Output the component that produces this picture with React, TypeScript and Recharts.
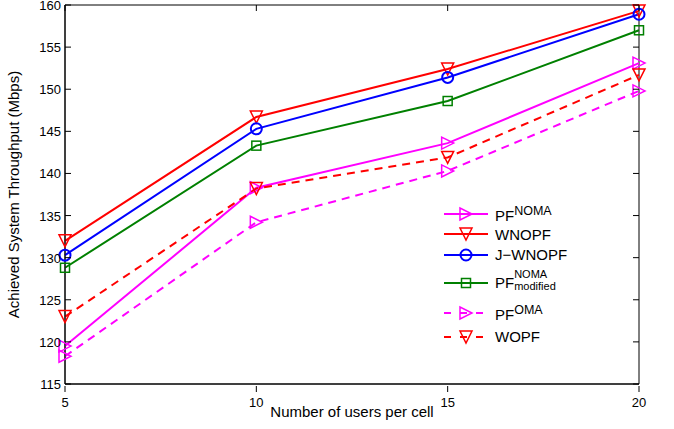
import { LineChart, Line, XAxis, YAxis, ReferenceArea } from 'recharts'

const users = [5, 10, 15, 20]
const wnopf = [132, 146.7, 152.4, 159.3]
const jwnopf = [130.3, 145.3, 151.4, 158.9]
const pfModified = [128.8, 143.3, 148.6, 157]
const pfNoma = [119.5, 138.3, 143.6, 153.1]
const pfOma = [118.3, 134.2, 140.3, 149.8]
const wopf = [123, 138.2, 141.9, 151.7]
const yTicks = [115, 120, 125, 130, 135, 140, 145, 150, 155, 160]

const data = users.map((u, i) => ({
  u, wnopf: wnopf[i], jwnopf: jwnopf[i], pfModified: pfModified[i],
  pfNoma: pfNoma[i], pfOma: pfOma[i], wopf: wopf[i],
}))

type Shape = 'right' | 'down' | 'circle' | 'square'

function markerPath(shape: Shape, cx: number, cy: number, color: string) {
  const r = 6
  if (shape === 'circle') return <circle cx={cx} cy={cy} r={5.5} fill="none" stroke={color} strokeWidth={2} />
  if (shape === 'square') return <rect x={cx - 4.5} y={cy - 4.5} width={9} height={9} fill="none" stroke={color} strokeWidth={1.5} />
  if (shape === 'down')
    return <polygon points={`${cx - r},${cy - r} ${cx + r},${cy - r} ${cx},${cy + r}`} fill="none" stroke={color} strokeWidth={1.5} />
  return <polygon points={`${cx - r},${cy - r} ${cx - r},${cy + r} ${cx + r},${cy}`} fill="none" stroke={color} strokeWidth={1.5} />
}

const marker = (shape: Shape, color: string) => (p: any) => <g key={p.index}>{markerPath(shape, p.cx, p.cy, color)}</g>

const series = [
  { key: 'pfNoma', color: '#ff00ff', shape: 'right' as Shape, dash: undefined, h: 21, label: <>PF<sup>NOMA</sup></> },
  { key: 'wnopf', color: '#ff0000', shape: 'down' as Shape, dash: undefined, h: 20, label: <>WNOPF</> },
  { key: 'jwnopf', color: '#0000ff', shape: 'circle' as Shape, dash: undefined, h: 21, label: <>J−WNOPF</> },
  {
    key: 'pfModified', color: '#008000', shape: 'square' as Shape, dash: undefined, h: 35,
    label: <span style={{ display: 'inline-flex', alignItems: 'flex-start' }}>PF<span style={{ display: 'inline-flex', flexDirection: 'column', fontSize: 11, lineHeight: '12px', marginTop: -6 }}><span>NOMA</span><span>modified</span></span></span>,
  },
  { key: 'pfOma', color: '#ff00ff', shape: 'right' as Shape, dash: '8 6', h: 26, label: <>PF<sup>OMA</sup></> },
  { key: 'wopf', color: '#ff0000', shape: 'down' as Shape, dash: '8 6', h: 21, label: <>WOPF</> },
]

const XTick = (p: any) => (
  <g>
    <line x1={p.x} x2={p.x} y1={p.y} y2={p.y - 6} stroke="#000" />
    <line x1={p.x} x2={p.x} y1={5} y2={11} stroke="#000" />
    <text x={p.x} y={p.y + 15} textAnchor="middle" fontSize={13} fill="#000">{p.payload.value}</text>
  </g>
)
const YTick = (p: any) => (
  <g>
    <line x1={65} x2={71} y1={p.y} y2={p.y} stroke="#000" />
    <line x1={633} x2={639} y1={p.y} y2={p.y} stroke="#000" />
    <text x={61} y={p.y + 5} textAnchor="end" fontSize={13} fill="#000">{p.payload.value}</text>
  </g>
)

function LegendBox() {
  return (
    <div style={{ position: 'absolute', left: 443, top: 203, fontFamily: 'Liberation Sans, Arial', fontSize: 15, color: '#000' }}>
      {series.map((s) => (
        <div key={s.key} style={{ display: 'flex', alignItems: 'center', height: s.h }}>
          <svg width={46} height={16} style={{ marginRight: 6 }}>
            <line x1={1} x2={45} y1={8} y2={8} stroke={s.color} strokeWidth={2} strokeDasharray={s.dash ? '7 9' : undefined} />
            {markerPath(s.shape, 23, 8, s.color)}
          </svg>
          <span>{s.label}</span>
        </div>
      ))}
    </div>
  )
}

export default function App() {
  return (
    <div style={{ position: 'absolute', left: 0, top: 0, background: '#fff' }}>
      <LineChart width={674} height={429} data={data} margin={{ top: 5, right: 35, left: 0, bottom: 5 }}
        style={{ fontFamily: 'Liberation Sans, Arial' }}>
        <XAxis dataKey="u" type="number" domain={[5, 20]} ticks={users} tick={<XTick />} tickLine={false}
          stroke="#000" height={40} interval={0}
          label={{ value: 'Number of users per cell', position: 'insideBottom', offset: 7, fill: '#000', fontSize: 15 }} />
        <YAxis type="number" domain={[115, 160]} ticks={yTicks} tick={<YTick />} tickLine={false}
          stroke="#000" width={65} interval={0}
          label={{ value: 'Achieved System Throughput (Mbps)', angle: -90, position: 'insideLeft', offset: 14, fill: '#000', fontSize: 15, style: { textAnchor: 'middle' } }} />
        <ReferenceArea x1={5} x2={20} y1={115} y2={160} fill="none" stroke="#000" strokeWidth={1} ifOverflow="visible" />
        {series.map((s) => (
          <Line key={s.key} dataKey={s.key} stroke={s.color} strokeWidth={2} strokeDasharray={s.dash}
            dot={marker(s.shape, s.color)} isAnimationActive={false} legendType="none" />
        ))}
      </LineChart>
      <LegendBox />
    </div>
  )
}
